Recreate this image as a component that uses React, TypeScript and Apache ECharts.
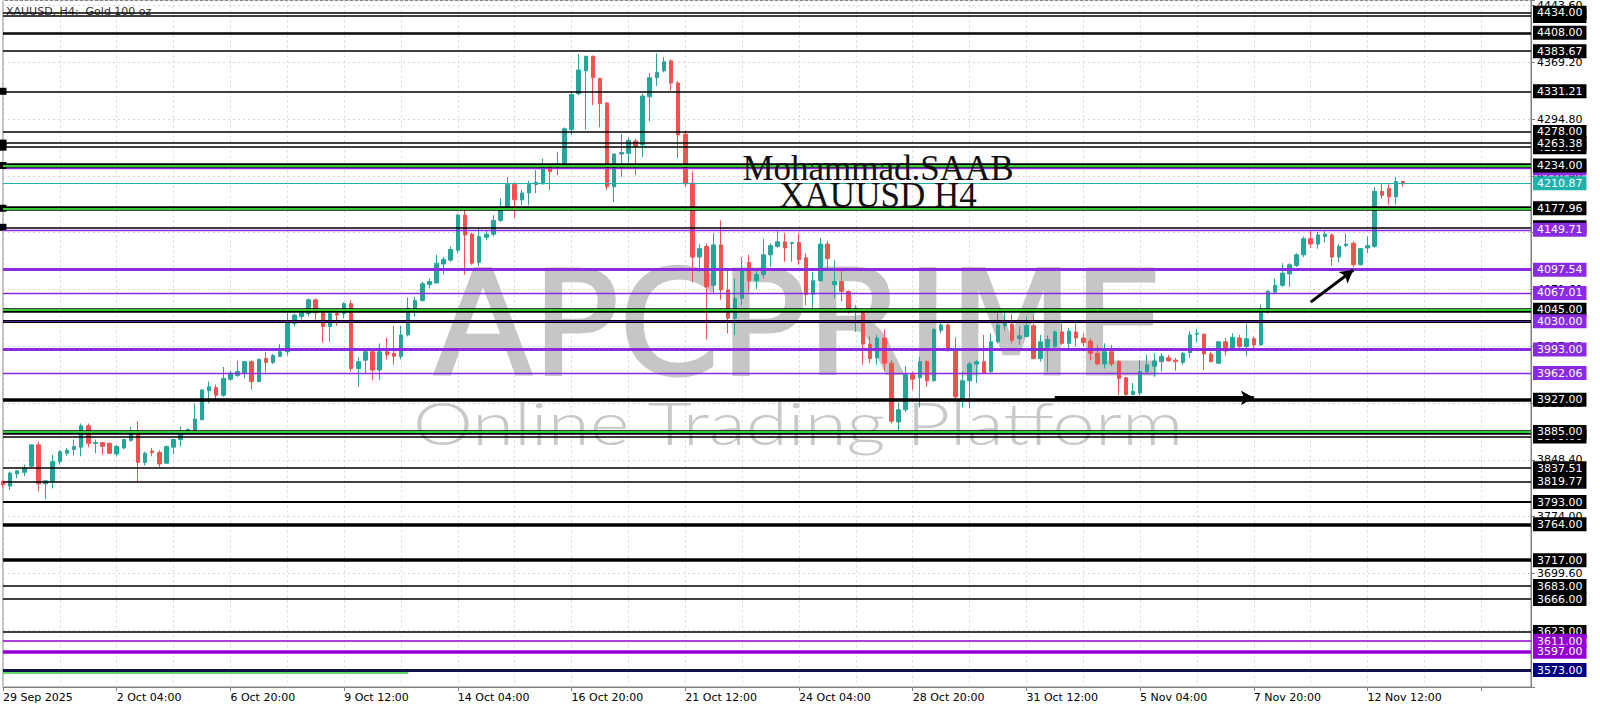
import { useEffect, useRef } from 'react';
import * as echarts from 'echarts';

// ---- candle data (H4 bars, 29 Sep 2025 12:00 -> 13 Nov 2025 08:00) ----
const opens = [
  3820, 3814, 3830, 3832, 3840, 3868, 3817, 3820, 3846, 3857,
  3862, 3865, 3893, 3870, 3871, 3870, 3856, 3864, 3874, 3883,
  3845, 3860, 3858, 3844, 3865, 3875, 3884, 3887, 3901, 3939,
  3943, 3933, 3954, 3959, 3962, 3977, 3951, 3981, 3976, 3984,
  3990, 4027, 4036, 4040, 4058, 4042, 4023, 4040, 4040, 4053,
  3968, 3979, 3990, 3966, 3990, 3988, 3984, 4012, 4045, 4057,
  4078, 4080, 4105, 4110, 4123, 4169, 4144, 4107, 4140, 4144,
  4162, 4178, 4209, 4189, 4198, 4209, 4210, 4234, 4232, 4237,
  4281, 4328, 4358, 4377, 4348, 4316, 4206, 4249, 4250, 4266,
  4261, 4324, 4349, 4358, 4371, 4342, 4275, 4211, 4114, 4128,
  4077, 4130, 4071, 4034, 4060, 4107, 4083, 4091, 4117, 4128,
  4134, 4132, 4133, 4113, 4065, 4083, 4131, 4078, 4082, 4069,
  4045, 4045, 4000, 3982, 4008, 3975, 3898, 3914, 3960, 3956,
  3977, 3952, 4018, 4025, 3992, 3928, 3952, 3974, 3977, 3964,
  4003, 4024, 4026, 4007, 4010, 4024, 3981, 3996, 3997, 4016,
  4001, 4016, 4008, 4004, 3988, 3974, 3990, 3977, 3956, 3934,
  3936, 3964, 3971, 3977, 3982, 3979, 3976, 3989, 4013, 4013,
  3987, 3975, 4003, 3992, 4008, 3997, 4007, 3999, 4045, 4068,
  4077, 4092, 4103, 4117, 4138, 4131, 4141, 4143, 4114, 4129,
  4132, 4104, 4126, 4128, 4200, 4204, 4193, 4213,
];
const closes = [
  3816, 3831, 3834, 3838, 3868, 3817, 3821, 3846, 3859, 3861,
  3866, 3893, 3870, 3871, 3866, 3857, 3866, 3875, 3886, 3845,
  3857, 3858, 3843, 3866, 3875, 3886, 3888, 3902, 3940, 3944,
  3933, 3955, 3962, 3964, 3977, 3951, 3980, 3976, 3985, 3990,
  4028, 4038, 4041, 4058, 4041, 4023, 4040, 4038, 4053, 3968,
  3977, 3990, 3966, 3990, 3986, 3984, 4012, 4047, 4057, 4079,
  4082, 4106, 4111, 4124, 4169, 4143, 4106, 4141, 4144, 4162,
  4178, 4209, 4189, 4198, 4209, 4212, 4233, 4226, 4236, 4282,
  4327, 4359, 4377, 4349, 4315, 4206, 4249, 4251, 4267, 4259,
  4325, 4349, 4356, 4370, 4342, 4274, 4210, 4114, 4125, 4075,
  4130, 4071, 4034, 4060, 4097, 4083, 4091, 4117, 4129, 4134,
  4126, 4133, 4111, 4065, 4083, 4131, 4112, 4082, 4069, 4045,
  4047, 4000, 3981, 4008, 3975, 3899, 3914, 3960, 3954, 3977,
  3952, 4019, 4025, 3992, 3931, 3952, 3974, 3977, 3962, 4003,
  4025, 4029, 4005, 4011, 4024, 3981, 4003, 4006, 4016, 4001,
  4017, 4008, 4002, 3988, 3974, 3990, 3974, 3955, 3934, 3938,
  3964, 3973, 3978, 3984, 3978, 3977, 3988, 4012, 4014, 3987,
  3977, 4003, 3991, 4009, 3997, 4007, 3999, 4046, 4069, 4077,
  4093, 4104, 4117, 4138, 4131, 4143, 4144, 4114, 4128, 4131,
  4104, 4125, 4129, 4200, 4195, 4193, 4213, 4210.87,
];
const lows = [
  3812, 3809, 3824, 3827, 3839, 3807, 3797, 3811, 3842, 3854,
  3854, 3853, 3865, 3857, 3855, 3856, 3853, 3862, 3872, 3820,
  3841, 3853, 3839, 3843, 3856, 3866, 3883, 3885, 3900, 3923,
  3927, 3931, 3952, 3957, 3955, 3941, 3950, 3963, 3974, 3983,
  3985, 4023, 4032, 4036, 4032, 4002, 4003, 4024, 4034, 3964,
  3944, 3962, 3953, 3953, 3980, 3973, 3980, 4010, 4036, 4056,
  4073, 4080, 4091, 4108, 4119, 4091, 4104, 4102, 4136, 4141,
  4160, 4175, 4165, 4182, 4182, 4198, 4209, 4202, 4221, 4236,
  4274, 4326, 4281, 4313, 4284, 4202, 4186, 4219, 4237, 4221,
  4245, 4292, 4338, 4356, 4332, 4244, 4206, 4081, 4095, 4006,
  4066, 4058, 4014, 4012, 4051, 4069, 4072, 4086, 4101, 4126,
  4108, 4108, 4104, 4051, 4047, 4082, 4099, 4060, 4056, 4040,
  4016, 3973, 3975, 3973, 3965, 3896, 3886, 3911, 3940, 3917,
  3944, 3951, 4014, 3990, 3927, 3917, 3916, 3949, 3961, 3962,
  4001, 4018, 4001, 3999, 4009, 3980, 3977, 3964, 3995, 3999,
  3995, 3997, 3997, 3979, 3973, 3968, 3971, 3933, 3930, 3933,
  3933, 3962, 3957, 3964, 3977, 3965, 3973, 3982, 4003, 3966,
  3976, 3974, 3985, 3991, 3995, 3984, 3992, 3998, 4040, 4067,
  4075, 4075, 4101, 4114, 4126, 4125, 4133, 4103, 4107, 4127,
  4101, 4103, 4119, 4126, 4191, 4183, 4183, 4206,
];
const highs = [
  3822, 3833, 3835, 3842, 3868, 3872, 3822, 3855, 3861, 3864,
  3875, 3896, 3896, 3875, 3872, 3871, 3868, 3876, 3892, 3899,
  3859, 3864, 3861, 3867, 3876, 3892, 3890, 3922, 3941, 3951,
  3947, 3970, 3965, 3978, 3978, 3979, 3981, 3990, 3987, 4000,
  4041, 4040, 4045, 4060, 4060, 4042, 4042, 4044, 4055, 4058,
  3983, 3995, 3992, 4001, 4008, 4024, 4024, 4061, 4062, 4082,
  4086, 4117, 4114, 4128, 4171, 4176, 4146, 4152, 4149, 4169,
  4191, 4219, 4212, 4202, 4214, 4228, 4243, 4236, 4252, 4284,
  4330, 4380, 4378, 4378, 4349, 4317, 4250, 4275, 4271, 4269,
  4328, 4355, 4381, 4376, 4373, 4345, 4280, 4226, 4131, 4132,
  4145, 4162, 4097, 4086, 4114, 4117, 4097, 4138, 4132, 4148,
  4145, 4134, 4145, 4119, 4095, 4139, 4135, 4110, 4097, 4070,
  4051, 4046, 4010, 4012, 4019, 3979, 3923, 3971, 3964, 3984,
  3979, 4021, 4029, 4027, 4009, 3964, 3977, 3979, 4012, 4014,
  4042, 4042, 4039, 4023, 4036, 4038, 4012, 4011, 4018, 4027,
  4021, 4027, 4014, 4008, 3999, 4001, 3999, 3979, 3957, 3949,
  3979, 3986, 3988, 3988, 3986, 3982, 3990, 4017, 4020, 4014,
  3990, 4004, 4008, 4014, 4012, 4027, 4010, 4052, 4071, 4086,
  4106, 4106, 4119, 4141, 4149, 4147, 4148, 4145, 4131, 4145,
  4135, 4126, 4141, 4206, 4210, 4209, 4219, 4214,
];

// ---- axis tick labels ----
const xTickLabels = [
  '29 Sep 2025', '2 Oct 04:00', '6 Oct 20:00', '9 Oct 12:00', '14 Oct 04:00',
  '16 Oct 20:00', '21 Oct 12:00', '24 Oct 04:00', '28 Oct 20:00', '31 Oct 12:00',
  '5 Nov 04:00', '7 Nov 20:00', '12 Nov 12:00',
];
const yTickLabels = [
  '4443.60', '4369.20', '4294.80', '4220.40', '4146.00', '4071.60',
  '3997.20', '3922.80', '3848.40', '3774.00', '3699.60', '3625.20',
];

// ---- horizontal price levels ----
const coveredLevels = [4430, 4258, 4153, 3879, 4230];
const untaggedLevels = [4406];
const anchoredLevels = [4331.21, 4263.38, 4258, 4234, 4177.96, 4153];
const blackThinLevels = [4434, 4430, 4408, 4406, 4383.67, 4331.21, 4278, 4263.38, 4258, 4153, 3879, 3837.51, 3819.77, 3683, 3666, 3623];
const blackMidLevels = [3793];
const blackThickLevels = [3927, 3764, 3717];
const greenLevels = [4234, 4177.96, 4045, 3885];
const purpleThickLevels = [4097.54, 3993];
const purpleThinLevels = [4230, 4149.71, 4067.01, 3962.06];
const indigoLevels = [4030];
const violetThinLevels = [3611];
const violetThickLevels = [3597];
const navyLevels = [3573];
const currentPrice = [4210.87];

// ---- annotations (bar index, price) ----
const trendArrow = [[184, 4055], [190, 4097]];
const flatArrow = [[148, 3929.6], [176, 3929.6]];
const greenSegment = [[0, 3570], [57, 3570]];

const BARS_PER_LABEL = 16;
const BARS_PER_GRID = 8;
const RIGHT_SHIFT = 18;
const Y_MIN = 3550.8;
const Y_MAX = 4450.1;
const Y_STEP = 74.4;

const BULL = '#26a69a';
const BEAR = '#ef5350';
const PURPLE = '#8a2be2';
const VIOLET = '#9400d3';
const GREEN = '#32cd32';

const FONT = 'DejaVu Sans';

function tag(bg: string) {
  return {
    show: true,
    position: 'end',
    distance: 2,
    color: '#fff',
    backgroundColor: bg,
    padding: [1, 4, 0, 4],
    fontSize: 11,
    lineHeight: 13,
    fontFamily: FONT,
    formatter: (p: any) => Number(p.value).toFixed(2),
  };
}

function buildMarkLines() {
  type Entry = { price: number; color: string; width: number; tagBg: string | null; order: number };
  const entries: Entry[] = [];
  const add = (levels: number[], color: string, width: number, tagBg: string | null, order = 1) =>
    levels.forEach((price) => entries.push({ price, color, width, tagBg, order }));
  add(blackThinLevels, '#000', 1.5, '#000');
  add(blackMidLevels, '#000', 2.2, '#000');
  add(blackThickLevels, '#000', 3.5, '#000');
  add(greenLevels, '#000', 4.5, '#000');
  add(purpleThickLevels, PURPLE, 3, PURPLE);
  add(purpleThinLevels, PURPLE, 1.4, PURPLE);
  add(indigoLevels, '#000', 3, PURPLE);
  add(violetThinLevels, VIOLET, 1.6, VIOLET);
  add(violetThickLevels, VIOLET, 3.5, VIOLET);
  add(navyLevels, '#12124a', 3, '#000080');
  add(currentPrice, '#20b2aa', 1, '#20b2aa');
  // overlays without tags
  add(greenLevels, GREEN, 2, null, 2);
  add(indigoLevels, '#5b1fa0', 1.2, null, 2);

  entries.forEach((e) => {
    if (coveredLevels.includes(e.price) && e.order === 1) e.order = 0;
    if (untaggedLevels.includes(e.price)) e.tagBg = null;
  });
  entries.sort((a, b) => a.order - b.order);

  const items: any[] = entries.map((e) => {
    const anchored = e.order !== 2 && anchoredLevels.includes(e.price);
    return {
      yAxis: e.price,
      symbol: anchored ? 'rect' : 'none',
      symbolSize: anchored ? [7, 7] : 0,
      lineStyle: { color: e.color, width: e.width, type: 'solid' },
      label: e.tagBg ? tag(e.tagBg) : { show: false },
    };
  });

  const pair = (pts: number[][], color: string, width: number, arrow: boolean) => [
    { coord: pts[0], symbol: 'none', lineStyle: { color, width, type: 'solid' }, label: { show: false } },
    { coord: pts[1], symbol: arrow ? 'arrow' : 'none', symbolSize: arrow ? [11, 13] : 0 },
  ];
  items.push(pair(greenSegment, GREEN, 1.5, false));
  items.push(pair(trendArrow, '#000', 3, true));
  items.push(pair(flatArrow, '#000', 4, true));
  return items;
}

export default function App() {
  const ref = useRef<HTMLDivElement>(null);

  useEffect(() => {
    const chart = echarts.init(ref.current!, null, { renderer: 'svg' });
    const categories = Array.from({ length: opens.length + RIGHT_SHIFT }, (_, i) => String(i));
    const candleData = opens.map((o, i) => [o, closes[i], lows[i], highs[i]]);

    const option: any = {
      animation: false,
      backgroundColor: '#fff',
      grid: { left: 2, right: 69, top: 0, bottom: 24, show: true, borderColor: '#808080', borderWidth: 1 },
      xAxis: {
        type: 'category',
        data: categories,
        boundaryGap: false,
        axisLine: { show: true, lineStyle: { color: '#808080' } },
        axisTick: { show: true, interval: (i: number) => i % BARS_PER_LABEL === 0, length: 4, lineStyle: { color: '#808080' } },
        axisLabel: {
          interval: (i: number) => i % BARS_PER_LABEL === 0,
          formatter: (_v: string, i: number) => xTickLabels[i / BARS_PER_LABEL] ?? '',
          align: 'left',
          margin: 5,
          color: '#000',
          fontSize: 11,
          fontFamily: FONT,
        },
        splitLine: {
          show: true,
          interval: (i: number) => i % BARS_PER_GRID === 0,
          lineStyle: { color: '#d6d6d6', type: [2, 3], width: 1 },
        },
      },
      yAxis: [
        { type: 'value', min: Y_MIN, max: Y_MAX, show: false, splitLine: { show: false } },
        {
          type: 'value',
          min: 0,
          max: Y_MAX - Y_MIN,
          interval: Y_STEP,
          position: 'right',
          axisLine: { show: true, lineStyle: { color: '#808080' } },
          axisTick: { show: true, length: 4, lineStyle: { color: '#808080' } },
          axisLabel: {
            margin: 6,
            color: '#000',
            fontSize: 11,
            fontFamily: FONT,
            formatter: (v: number) => {
              const s = (v + Y_MIN).toFixed(2);
              return yTickLabels.includes(s) ? s : '';
            },
          },
          splitLine: { show: true, lineStyle: { color: '#d6d6d6', type: [2, 3], width: 1 } },
        },
      ],
      series: [
        {
          type: 'candlestick',
          yAxisIndex: 0,
          data: candleData,
          barWidth: 4,
          clip: true,
          itemStyle: { color: BULL, color0: BEAR, borderColor: BULL, borderColor0: BEAR, borderWidth: 1 },
          markLine: {
            silent: true,
            animation: false,
            symbol: 'none',
            precision: 2,
            data: buildMarkLines(),
          },
        },
      ],
      graphic: [
        {
          type: 'text',
          x: 799,
          y: 324,
          z: 1,
          silent: true,
          style: {
            text: 'APCPRIME',
            fill: '#c6c6c6',
            stroke: '#c6c6c6',
            lineWidth: 3,
            fontSize: 144,
            fontFamily: FONT,
            align: 'center',
            verticalAlign: 'middle',
          },
        },
        {
          type: 'text',
          x: 798,
          y: 422,
          z: 1,
          scaleX: 1.27,
          silent: true,
          style: {
            text: 'Online Trading Platform',
            fill: '#c8c8c8',
            fontSize: 60,
            fontWeight: 300,
            fontFamily: 'Lato',
            align: 'center',
            verticalAlign: 'middle',
          },
        },
        {
          type: 'text',
          x: 878,
          y: 168,
          z: 20,
          silent: true,
          style: {
            text: 'Mohammad.SAAB',
            fill: '#111',
            fontSize: 35,
            fontFamily: 'Liberation Serif',
            align: 'center',
            verticalAlign: 'middle',
          },
        },
        {
          type: 'text',
          x: 878,
          y: 195,
          z: 20,
          silent: true,
          style: {
            text: 'XAUUSD H4',
            fill: '#111',
            fontSize: 35,
            fontFamily: 'Liberation Serif',
            align: 'center',
            verticalAlign: 'middle',
          },
        },
        {
          type: 'text',
          x: 6,
          y: 11,
          z: 1,
          silent: true,
          style: {
            text: 'XAUUSD, H4:  Gold 100 oz',
            fill: '#333',
            fontSize: 11,
            fontFamily: FONT,
            align: 'left',
            verticalAlign: 'middle',
          },
        },
      ],
    };

    chart.setOption(option);
    return () => chart.dispose();
  }, []);

  return (
    <div
      ref={ref}
      style={{ position: 'fixed', left: 0, top: 0, width: 1600, height: 711, background: '#fff' }}
    />
  );
}
